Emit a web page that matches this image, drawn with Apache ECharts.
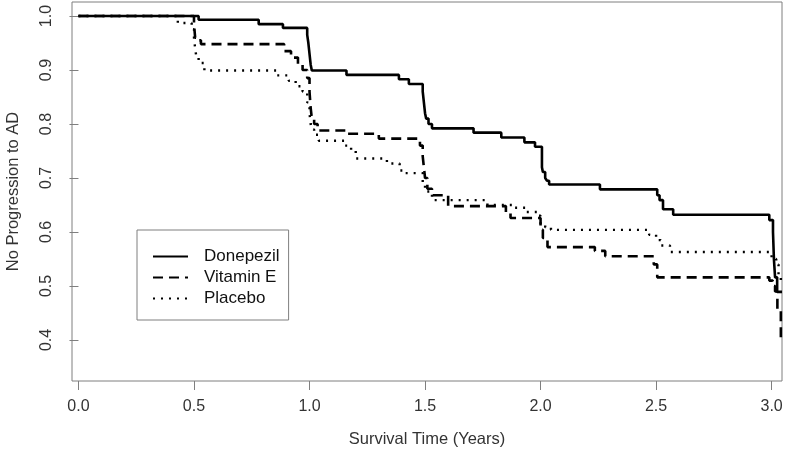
<!DOCTYPE html>
<html>
<head>
<meta charset="utf-8">
<script src="https://cdn.jsdelivr.net/npm/echarts@6/dist/echarts.min.js"></script>
<style>
html,body{margin:0;padding:0;background:#fff;}
#c{width:788px;height:455px;}
</style>
</head>
<body>
<div id="c"></div>
<script>
// Survival time (years) at which each new level starts, and the level
const donepezilT = [0, 0.52, 0.78, 0.885, 0.99, 0.995, 1.0, 1.005, 1.01, 1.16, 1.387, 1.43, 1.49, 1.495, 1.50, 1.505, 1.515, 1.53, 1.71, 1.83, 1.93, 1.976, 2.006, 2.01, 2.02, 2.028, 2.037, 2.257, 2.505, 2.515, 2.53, 2.574, 2.99, 3.006, 3.01, 3.015, 3.024, 3.045];
const donepezilS = [1.0, 0.993, 0.985, 0.978, 0.965, 0.95, 0.93, 0.91, 0.899, 0.891, 0.883, 0.874, 0.86, 0.84, 0.82, 0.81, 0.80, 0.792, 0.784, 0.775, 0.766, 0.758, 0.72, 0.711, 0.70, 0.695, 0.688, 0.679, 0.668, 0.659, 0.642, 0.632, 0.622, 0.60, 0.55, 0.516, 0.489, 0.489];

const vitaminET = [0, 0.50, 0.505, 0.515, 0.53, 0.89, 0.92, 0.95, 0.97, 0.99, 1.0, 1.005, 1.01, 1.02, 1.035, 1.16, 1.30, 1.478, 1.49, 1.495, 1.50, 1.51, 1.53, 1.60, 1.85, 1.87, 2.0, 2.01, 2.03, 2.235, 2.28, 2.49, 2.505, 2.99, 3.005, 3.015, 3.025, 3.04, 3.045];
const vitaminES = [1.0, 0.985, 0.96, 0.955, 0.948, 0.935, 0.923, 0.91, 0.90, 0.885, 0.86, 0.83, 0.81, 0.80, 0.788, 0.782, 0.773, 0.76, 0.74, 0.72, 0.70, 0.68, 0.668, 0.648, 0.636, 0.626, 0.604, 0.589, 0.572, 0.565, 0.555, 0.54, 0.516, 0.51, 0.50, 0.49, 0.455, 0.40, 0.40];

const placeboT = [0, 0.43, 0.49, 0.50, 0.505, 0.51, 0.52, 0.545, 0.86, 0.91, 0.94, 0.97, 0.99, 1.0, 1.005, 1.01, 1.02, 1.04, 1.15, 1.18, 1.20, 1.335, 1.39, 1.41, 1.49, 1.50, 1.53, 1.54, 1.77, 1.88, 1.94, 1.99, 2.0, 2.02, 2.045, 2.47, 2.50, 2.52, 2.56, 3.0, 3.02, 3.03, 3.04, 3.045];
const placeboS = [1.0, 0.987, 0.975, 0.96, 0.94, 0.925, 0.913, 0.899, 0.89, 0.88, 0.87, 0.86, 0.84, 0.82, 0.80, 0.79, 0.78, 0.769, 0.76, 0.75, 0.736, 0.727, 0.714, 0.709, 0.69, 0.675, 0.665, 0.659, 0.65, 0.645, 0.637, 0.63, 0.615, 0.609, 0.604, 0.595, 0.585, 0.575, 0.563, 0.55, 0.54, 0.52, 0.51, 0.51];

const seriesNames = ['Donepezil', 'Vitamin E', 'Placebo'];
const xTicks = [0, 0.5, 1.0, 1.5, 2.0, 2.5, 3.0];
const yTicks = [0.4, 0.5, 0.6, 0.7, 0.8, 0.9, 1.0];
const xTitle = 'Survival Time (Years)';
const yTitle = 'No Progression to AD';

function pairs(t, s) { return t.map((v, i) => [v, s[i]]); }

const FONT = "'Liberation Sans', Arial, sans-serif";
const chart = echarts.init(document.getElementById('c'), null, {renderer: 'canvas'});
const common = {type: 'line', step: 'end', symbol: 'none', showSymbol: false, animation: false};
chart.setOption({
  animation: false,
  backgroundColor: '#fff',
  grid: {left: 72, right: 6, top: 2, bottom: 74, show: true, borderColor: '#7f7f7f', borderWidth: 1, containLabel: false, outerBoundsMode: 'none'},
  xAxis: {
    type: 'value', min: -0.028, max: 3.045,
    axisLine: {show: false},
    splitLine: {show: false},
    axisTick: {show: true, inside: false, length: 9, lineStyle: {color: '#7f7f7f'}, customValues: xTicks},
    axisLabel: {show: true, margin: 18, fontSize: 16, color: '#333', fontFamily: FONT, customValues: xTicks, formatter: v => v.toFixed(1)},
    name: xTitle, nameLocation: 'middle', nameGap: 50,
    nameTextStyle: {fontSize: 16.5, color: '#333', fontFamily: FONT}
  },
  yAxis: {
    type: 'value', min: 0.324, max: 1.026,
    axisLine: {show: false},
    splitLine: {show: false},
    axisTick: {show: true, inside: false, length: 9, lineStyle: {color: '#7f7f7f'}, customValues: yTicks},
    axisLabel: {show: true, rotate: 90, margin: 17, fontSize: 16, color: '#333', fontFamily: FONT, customValues: yTicks, formatter: v => v.toFixed(1)},
    name: yTitle, nameLocation: 'middle', nameGap: 50, nameRotate: 90,
    nameTextStyle: {fontSize: 16.5, color: '#333', fontFamily: FONT}
  },
  legend: {
    orient: 'vertical', left: 137, top: 230,
    backgroundColor: '#fff', borderColor: '#7f7f7f', borderWidth: 1, borderRadius: 0,
    padding: [18, 9, 13, 15], itemWidth: 35, itemHeight: 15, itemGap: 4,
    itemStyle: {opacity: 0},
    textStyle: {fontSize: 17, color: '#111', fontFamily: FONT, padding: [0, 0, 0, 11]},
    data: seriesNames
  },
  series: [
    Object.assign({name: seriesNames[0], data: pairs(donepezilT, donepezilS), lineStyle: {color: '#000', width: 2.6, type: 'solid'}, itemStyle: {color: '#000'}}, common),
    Object.assign({name: seriesNames[1], data: pairs(vitaminET, vitaminES), lineStyle: {color: '#000', width: 2.6, type: [10, 6]}, itemStyle: {color: '#000'}}, common),
    Object.assign({name: seriesNames[2], data: pairs(placeboT, placeboS), lineStyle: {color: '#000', width: 2.4, type: [2, 6]}, itemStyle: {color: '#000'}}, common)
  ]
});
</script>
</body>
</html>
